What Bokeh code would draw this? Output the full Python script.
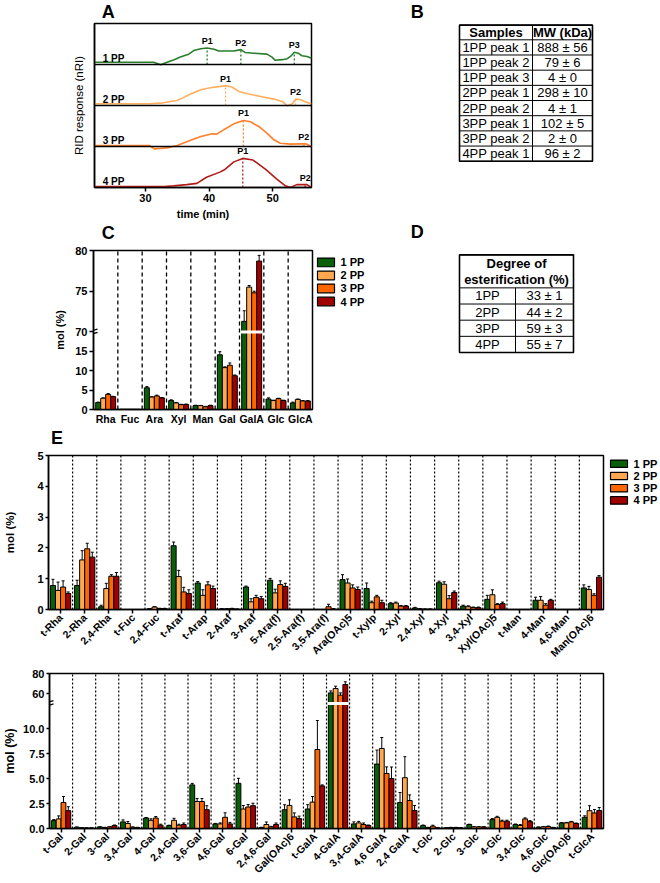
import numpy as np
from bokeh.plotting import figure
from bokeh.models import Range1d, FactorRange, FixedTicker, Span, ColumnDataSource, Arrow
from bokeh.layouts import column, row
from bokeh.transform import dodge
from bokeh.embed import file_html
from bokeh.resources import INLINE
from bokeh.core.properties import value

# ======================= DATA =======================
SERIES = ["1 PP", "2 PP", "3 PP", "4 PP"]

# Panel A - RID chromatograms (time in min, relative response)
A_t_1PP = [22.0, 31.3, 32.4, 33.4, 34.5, 35.5, 36.3, 36.8, 37.6, 38.7, 39.7, 40.8, 41.5, 42.9, 43.9,
           45.0, 45.7, 47.0, 49.1, 49.9, 50.4, 51.5, 52.3, 52.9, 53.4, 54.0, 54.6, 55.4, 56.1]
A_r_1PP = [0.055, 0.055, -0.008, 0.055, 0.118, 0.181, 0.228, 0.252, 0.339, 0.386, 0.402, 0.370, 0.331,
           0.331, 0.331, 0.362, 0.291, 0.276, 0.252, 0.181, 0.102, 0.118, 0.142, 0.213, 0.299, 0.276,
           0.213, 0.197, 0.150]
A_t_2PP = [22.0, 30.6, 32.4, 33.9, 35.0, 35.8, 37.1, 38.7, 40.2, 41.8, 42.6, 43.6, 44.7, 46.0, 48.1,
           50.2, 51.5, 52.3, 53.1, 53.6, 54.4, 55.2, 56.1]
A_r_2PP = [0.041, 0.041, 0.057, 0.098, 0.123, 0.180, 0.279, 0.385, 0.434, 0.467, 0.484, 0.451, 0.344,
           0.287, 0.221, 0.156, 0.098, -0.008, 0.041, 0.156, 0.139, 0.082, 0.041]
A_t_3PP = [22.0, 30.6, 31.4, 33.4, 35.0, 36.6, 38.7, 40.5, 41.2, 42.3, 43.9, 45.4, 46.5, 47.8, 49.1,
           50.2, 51.2, 52.8, 54.4, 55.2, 56.1]
A_r_3PP = [0.024, 0.024, -0.057, -0.033, 0.024, 0.122, 0.244, 0.309, 0.301, 0.407, 0.553, 0.634, 0.602,
           0.488, 0.325, 0.163, 0.081, 0.057, 0.065, 0.065, 0.0]
A_t_4PP = [22.0, 33.0, 34.4, 36.5, 38.1, 39.6, 41.7, 42.5, 43.9, 45.3, 46.9, 48.9, 50.6, 52.0, 52.8,
           53.8, 55.4, 56.1]
A_r_4PP = [0.025, 0.025, 0.04, 0.07, 0.10, 0.25, 0.375, 0.44, 0.625, 0.71, 0.67, 0.44, 0.21, 0.04, 0.0,
           0.07, 0.07, 0.0]
A_xticks = [30, 40, 50]
PEAK_sample = [0, 0, 0, 1, 1, 2, 2, 3, 3]
PEAK_label = ["P1", "P2", "P3", "P1", "P2", "P1", "P2", "P1", "P2"]
PEAK_time = [39.7, 45.0, 53.4, 42.6, 53.6, 45.4, 54.9, 45.3, 55.1]

# Panel B - molecular weights
B_header = ["Samples", "MW (kDa)"]
B_samples = ["1PP peak 1", "1PP peak 2", "1PP peak 3", "2PP peak 1", "2PP peak 2",
             "3PP peak 1", "3PP peak 2", "4PP peak 1"]
B_mw = ["888 ± 56", "79 ± 6", "4 ± 0", "298 ± 10", "4 ± 1", "102 ± 5", "2 ± 0", "96 ± 2"]

# Panel C - monosaccharide composition (mol %)
C_cats = ["Rha", "Fuc", "Ara", "Xyl", "Man", "Gal", "GalA", "Glc", "GlcA"]
C_1PP = [1.8, 0.05, 5.6, 2.3, 1.0, 14.1, 71.3, 2.7, 1.7]
C_2PP = [2.9, 0.05, 3.2, 1.7, 1.0, 10.8, 75.5, 2.3, 2.6]
C_3PP = [3.9, 0.05, 3.5, 1.25, 0.7, 11.4, 74.8, 2.8, 2.2]
C_4PP = [3.3, 0.05, 3.0, 1.3, 1.0, 8.7, 78.7, 2.3, 2.2]
C_1PP_err = [0.1, 0, 0.3, 0.2, 0.1, 0.8, 1.3, 0.3, 0.2]
C_2PP_err = [0.1, 0, 0.1, 0.1, 0.05, 0.2, 0.2, 0.1, 0.1]
C_3PP_err = [0.2, 0, 0.2, 0.1, 0.1, 0.6, 0.2, 0.1, 0.1]
C_4PP_err = [0.1, 0, 0.1, 0.1, 0.1, 0.2, 0.7, 0.1, 0.1]
C_yticks = [0, 5, 10, 15, 70, 75, 80]

# Panel D - degree of esterification
D_header = ["Degree of", "esterification (%)"]
D_samples = ["1PP", "2PP", "3PP", "4PP"]
D_values = ["33 ± 1", "44 ± 2", "59 ± 3", "55 ± 7"]

# Panel E (top) - glycosyl linkages (mol %)
E1_cats = ["t-Rha", "2-Rha", "2,4-Rha", "t-Fuc", "2,4-Fuc", "t-Araf", "t-Arap", "2-Araf", "3-Araf",
           "5-Ara(f)", "2,5-Ara(f)", "3,5-Ara(f)", "Ara(OAc)5", "t-Xylp", "2-Xyl", "2,4-Xyl", "4-Xyl",
           "3,4-Xyl", "Xyl(OAc)5", "t-Man", "4-Man", "4,6-Man", "Man(OAc)6"]
E1_1PP = [0.78, 0.78, 0.09, 0, 0.02, 2.07, 0.86, 0.02, 0.73, 0.95, 0, 0, 0.97, 0.68, 0.19, 0.05, 0.87,
          0.11, 0.33, 0, 0.30, 0, 0.70]
E1_2PP = [0.62, 1.61, 0.68, 0, 0.08, 1.07, 0.46, 0.02, 0.25, 0.54, 0, 0, 0.86, 0.22, 0.21, 0.02, 0.82,
          0.09, 0.48, 0, 0.30, 0, 0.65]
E1_3PP = [0.73, 1.97, 1.08, 0, 0.03, 0.57, 0.80, 0.03, 0.39, 0.81, 0, 0.09, 0.70, 0.41, 0.11, 0.01, 0.35,
          0.06, 0.16, 0, 0.14, 0, 0.46]
E1_4PP = [0.52, 1.70, 1.08, 0, 0.03, 0.52, 0.68, 0.01, 0.35, 0.75, 0, 0.01, 0.65, 0.22, 0.11, 0.01, 0.55,
          0.06, 0.19, 0, 0.30, 0, 1.05]
E1_1PP_err = [0.2, 0.17, 0.05, 0, 0.01, 0.12, 0.05, 0.01, 0.03, 0.06, 0, 0, 0.16, 0.18, 0.03, 0.02, 0.05,
              0.03, 0.13, 0, 0.1, 0, 0.1]
E1_2PP_err = [0.27, 0.3, 0.17, 0, 0.01, 0.2, 0.18, 0.01, 0.1, 0.12, 0, 0, 0.13, 0.05, 0.03, 0.01, 0.08,
              0.03, 0.16, 0, 0.12, 0, 0.1]
E1_3PP_err = [0.2, 0.18, 0.05, 0, 0.01, 0.15, 0.1, 0.01, 0.07, 0.12, 0, 0.08, 0.1, 0.05, 0.02, 0.01, 0.1,
              0.02, 0.03, 0, 0.05, 0, 0.05]
E1_4PP_err = [0.05, 0.16, 0.12, 0, 0.01, 0.12, 0.08, 0.01, 0.07, 0.1, 0, 0.02, 0.08, 0.08, 0.02, 0.01,
              0.05, 0.02, 0.05, 0, 0.03, 0, 0.05]
E1_yticks = [0, 1, 2, 3, 4, 5]

# Panel E (bottom)
E2_cats = ["t-Gal", "2-Gal", "3-Gal", "3,4-Gal", "4-Gal", "2,4-Gal", "3,6-Gal", "4,6-Gal", "6-Gal",
           "2,4,6-Gal", "Gal(OAc)6", "t-GalA", "4-GalA", "3,4-GalA", "4,6 GalA", "2,4 GalA", "t-Glc",
           "2-Glc", "3-Glc", "4-Glc", "3,4-Glc", "4,6-Glc", "Glc(OAc)6", "t-GlcA"]
E2_1PP = [0.79, 0.13, 0.16, 0.66, 1.05, 0.30, 4.36, 0.46, 4.52, 0.10, 1.88, 1.95, 60.6, 0.46, 6.44, 2.6,
          0.30, 0.07, 0.40, 0.89, 0.40, 0.13, 0.56, 1.12]
E2_2PP = [0.96, 0.07, 0.10, 0.50, 0.82, 0.82, 2.70, 0.46, 1.95, 0.40, 2.31, 2.64, 65.0, 0.56, 8.0, 5.08,
          0.10, 0.10, 0.16, 1.12, 0.30, 0.16, 0.56, 1.78]
E2_3PP = [2.60, 0.05, 0.16, 0.13, 1.05, 0.33, 2.70, 1.12, 2.15, 0.16, 1.16, 7.90, 58.3, 0.40, 5.5, 2.8,
          0.23, 0.10, 0.16, 0.73, 0.96, 0.20, 0.66, 1.55]
E2_4PP = [1.78, 0.05, 0.30, 0.10, 0.33, 0.40, 1.88, 0.46, 2.28, 0.40, 0.99, 4.26, 69.0, 0.30, 5.0, 1.8,
          0.07, 0.07, 0.16, 0.73, 0.69, 0.10, 0.50, 1.80]
E2_1PP_err = [0.1, 0.02, 0.02, 0.2, 0.05, 0.03, 0.15, 0.05, 0.5, 0.02, 0.5, 0.43, 2.0, 0.2, 1.4, 1.0,
              0.05, 0.02, 0.03, 0.1, 0.05, 0.02, 0.03, 0.15]
E2_2PP_err = [0.3, 0.02, 0.02, 0.2, 0.15, 0.2, 0.3, 0.1, 0.35, 0.25, 0.56, 0.56, 2.3, 0.15, 1.1, 2.1,
              0.02, 0.02, 0.02, 0.1, 0.1, 0.02, 0.05, 0.5]
E2_3PP_err = [0.6, 0.02, 0.02, 0.03, 0.15, 0.1, 0.3, 0.45, 0.25, 0.05, 0.4, 2.9, 2.3, 0.15, 0.66, 0.56,
              0.1, 0.02, 0.02, 0.1, 0.1, 0.05, 0.05, 0.35]
E2_4PP_err = [0.4, 0.02, 0.05, 0.02, 0.1, 0.15, 0.4, 0.15, 0.25, 0.15, 0.25, 0.1, 2.7, 0.05, 1.15, 0.5,
              0.02, 0.02, 0.02, 0.1, 0.1, 0.02, 0.05, 0.3]
E2_yticks = [0, 2.5, 5, 7.5, 10, 60, 80]
E2_ylabels = ["0.0", "2.5", "5.0", "7.5", "10.0", "60", "80"]

# ======================= STYLE / HELPERS =======================
FONT = "Liberation Sans"
BAR_COLORS = ["#0a5f0a", "#ffa850", "#ff6600", "#a00000"]
TRACE_COLORS = ["#2a7d2a", "#ffae5e", "#ff7f2a", "#b31b1b"]


def axis_fig(width, height, x_range, y_range, left, top, fw, fh):
    p = figure(width=width, height=height, x_range=x_range, y_range=y_range,
               output_backend="svg", toolbar_location=None,
               min_border_left=left, min_border_right=width - left - fw,
               min_border_top=top, min_border_bottom=height - top - fh)
    p.background_fill_color = "white"
    p.border_fill_color = "white"
    p.xgrid.visible = False
    p.ygrid.visible = False
    p.outline_line_color = "black"
    p.outline_line_width = 1.5
    p.outline_line_alpha = 1.0
    for ax in p.axis:
        ax.axis_line_width = 1.5
        ax.axis_line_color = "black"
        ax.major_tick_line_width = 1.5
        ax.major_tick_line_color = "black"
        ax.major_tick_in = 0
        ax.major_tick_out = 4
        ax.minor_tick_line_color = None
        ax.major_label_standoff = 2
        ax.major_label_text_font = FONT
        ax.major_label_text_font_style = "bold"
        ax.major_label_text_font_size = "11px"
        ax.major_label_text_color = "black"
        ax.axis_label_text_font = FONT
        ax.axis_label_text_font_style = "bold"
        ax.axis_label_text_color = "black"
        ax.axis_label_text_font_size = "11px"
    return p


def plain_fig(width, height, page_x, page_y):
    """Figure without axes whose data coordinates are page pixels (y downwards)."""
    p = figure(width=width, height=height, x_range=Range1d(page_x, page_x + width),
               y_range=Range1d(page_y + height, page_y), x_axis_type=None, y_axis_type=None,
               output_backend="svg", toolbar_location=None,
               min_border_left=0, min_border_right=0, min_border_top=0, min_border_bottom=0)
    p.outline_line_color = None
    p.background_fill_color = "white"
    p.border_fill_color = "white"
    return p


def txt(p, xs, ys, texts, size="13px", style="normal", align="center"):
    p.text(x=xs, y=ys, text=texts, text_font=value(FONT), text_font_size=value(size),
           text_font_style=value(style), text_align=value(align), text_baseline=value("middle"),
           text_color="black")


def bars(p, cats, vals_list, errs_list, tf, bw):
    for k, (vals, errs) in enumerate(zip(vals_list, errs_list)):
        v = np.asarray(vals, float)
        e = np.asarray(errs, float)
        off = (k - 1.5) * bw
        m = e > 0
        es = ColumnDataSource(dict(cat=[c for c, mm in zip(cats, m) if mm],
                                   y0=tf(v[m]), y1=tf(v[m] + e[m])))
        p.segment(x0=dodge("cat", off, range=p.x_range), y0="y0",
                  x1=dodge("cat", off, range=p.x_range), y1="y1", source=es,
                  line_color="black", line_width=1)
        p.segment(x0=dodge("cat", off - 0.3 * bw, range=p.x_range), y0="y1",
                  x1=dodge("cat", off + 0.3 * bw, range=p.x_range), y1="y1", source=es,
                  line_color="black", line_width=1)
        bs = ColumnDataSource(dict(cat=list(cats), top=tf(v)))
        p.vbar(x=dodge("cat", off, range=p.x_range), top="top", bottom=0, width=bw, source=bs,
               fill_color=BAR_COLORS[k], line_color="black", line_width=1)


def separators(p, cats, top, dash, lw):
    ss = ColumnDataSource(dict(cat=list(cats[1:])))
    p.segment(x0=dodge("cat", -0.5, range=p.x_range), y0=0, x1=dodge("cat", -0.5, range=p.x_range),
              y1=top, source=ss, line_color="black", line_width=lw, line_dash=dash)


def break_gap(p, cats, vals_list, brk, bw):
    allv = np.max(np.asarray(vals_list, float), axis=0)
    bc = [c for c, vv in zip(cats, allv) if vv > brk]
    gs = ColumnDataSource(dict(cat=bc))
    p.segment(x0=dodge("cat", -2 * bw - 0.03, range=p.x_range), y0=brk,
              x1=dodge("cat", 2 * bw + 0.03, range=p.x_range), y1=brk, source=gs,
              line_color="white", line_width=3)


def break_marks(p, brk, px_x, px_y):
    """Two short slanted strokes across the y axis at the axis break (px_x/px_y: data per pixel)."""
    for d in (-1.7, 1.7):
        yc = brk + d * px_y
        p.add_layout(Arrow(start=None, end=None, x_start=-4 * px_x, y_start=yc - 1.2 * px_y,
                           x_end=4 * px_x, y_end=yc + 1.2 * px_y, line_color="black", line_width=1.3))


def y_ticks(p, vals, labels, tf):
    pos = [float(tf(v)) for v in vals]
    pos = [int(x) if x.is_integer() else x for x in pos]
    p.yaxis.ticker = FixedTicker(ticks=pos)
    p.yaxis.major_label_overrides = {x: l for x, l in zip(pos, labels)}


def legend_fig(width, height, page_x, page_y, box_x, box_w, box_h, row0, pitch, text_x):
    p = plain_fig(width, height, page_x, page_y)
    ys = [row0 + i * pitch for i in range(len(SERIES))]
    p.quad(left=box_x, right=box_x + box_w, top=[y - box_h / 2 for y in ys],
           bottom=[y + box_h / 2 for y in ys], fill_color=BAR_COLORS, line_color="black", line_width=1.2)
    txt(p, [text_x] * len(SERIES), ys, SERIES, size="11px", style="bold", align="left")
    return p


# ======================= STRIPS WITH PANEL LETTERS =======================
s0 = plain_fig(660, 21, 0, 0)
txt(s0, [70, 438], [11, 11], ["A", "B"], size="18px", style="bold")
s2 = plain_fig(660, 22, 0, 222)
txt(s2, [70, 438], [232, 231], ["C", "D"], size="18px", style="bold")
s4 = plain_fig(660, 21, 0, 427)
txt(s4, [9], [437], ["E"], size="18px", style="bold")

# ======================= PANEL A =======================
A_t = [A_t_1PP, A_t_2PP, A_t_3PP, A_t_4PP]
A_r = [A_r_1PP, A_r_2PP, A_r_3PP, A_r_4PP]
nA = len(A_t)
pA = axis_fig(400, 201, Range1d(22, 56.1), Range1d(0, nA), 94, 2, 217, 164)
for k in range(nA):
    off = nA - 1 - k
    pA.line(A_t[k], np.asarray(A_r[k]) + off, line_color=TRACE_COLORS[k], line_width=1.6)
for j in range(1, nA):
    pA.add_layout(Span(location=j, dimension="width", line_color="black", line_width=1.5))
pk_x, pk_y0, pk_y1, pk_c = [], [], [], []
for s, t in zip(PEAK_sample, PEAK_time):
    off = nA - 1 - s
    r = float(np.interp(t, A_t[s], A_r[s]))
    pk_x.append(t)
    pk_y0.append(off)
    pk_y1.append(off + r)
    pk_c.append(TRACE_COLORS[s])
pA.segment(x0=pk_x, y0=pk_y0, x1=pk_x, y1=pk_y1, line_color=pk_c, line_width=1.3, line_dash="2 2")
pA.text(x=pk_x, y=[y + 0.05 for y in pk_y1], text=PEAK_label, text_font=value(FONT),
        text_font_size=value("9px"), text_font_style=value("bold"), text_align=value("center"),
        text_baseline=value("bottom"), text_color="black")
pA.text(x=[23.3] * nA, y=[nA - 1 - k + 0.15 for k in range(nA)], text=SERIES,
        text_font=value(FONT), text_font_size=value("10px"), text_font_style=value("bold"),
        text_align=value("left"), text_baseline=value("middle"), text_color="black")
pA.xaxis.ticker = FixedTicker(ticks=A_xticks)
pA.xaxis.axis_label = "time (min)"
pA.xaxis.axis_label_standoff = 3
pA.yaxis.ticker = FixedTicker(ticks=[])
pA.yaxis.major_tick_out = 0
pA.yaxis.axis_label = "RID response (nRI)"
pA.yaxis.axis_label_text_font_style = "normal"
pA.yaxis.axis_label_text_font_size = "11.5px"
pA.yaxis.axis_label_standoff = 10

# ======================= PANEL B =======================
pB = plain_fig(260, 201, 400, 21)
B_left, B_mid, B_right, B_top, B_head, B_row = 459, 532, 592, 23, 18, 18.6
nB = len(B_samples)
hy = [B_top] + [B_top + B_head + i * B_row for i in range(nB + 1)]
pB.segment(x0=B_left, x1=B_right, y0=hy, y1=hy, line_color="black", line_width=1)
pB.segment(x0=[B_left, B_mid, B_right], x1=[B_left, B_mid, B_right], y0=B_top, y1=hy[-1],
           line_color="black", line_width=1)
pB.quad(left=B_left, right=B_right, top=B_top, bottom=hy[-1], fill_alpha=0, line_color="black",
        line_width=1.6)
txt(pB, [(B_left + B_mid) / 2, (B_mid + B_right) / 2], [B_top + B_head / 2] * 2, B_header, style="bold")
rowc = [B_top + B_head + (i + 0.5) * B_row for i in range(nB)]
txt(pB, [(B_left + B_mid) / 2] * nB, rowc, B_samples)
txt(pB, [(B_mid + B_right) / 2] * nB, rowc, B_mw)

# ======================= PANEL C =======================
C_BRK, C_UP0, C_UPS = 20, 70, 2.1


def tC(v):
    v = np.asarray(v, float)
    return np.where(v <= C_BRK, v, C_BRK + (v - C_UP0) * C_UPS)


C_vals = [C_1PP, C_2PP, C_3PP, C_4PP]
C_errs = [C_1PP_err, C_2PP_err, C_3PP_err, C_4PP_err]
C_top = float(tC(C_yticks[-1]))
pC = axis_fig(314, 183, FactorRange(factors=C_cats), Range1d(0, C_top), 93, 6, 219, 161)
separators(pC, C_cats, C_top, "4 3", 1.3)
bwC = 0.205
bars(pC, C_cats, C_vals, C_errs, tC, bwC)
break_gap(pC, C_cats, C_vals, C_BRK, bwC)
pC.xaxis.major_label_text_font_size = "10.5px"
pC.xaxis.major_tick_out = 0
pC.xaxis.major_label_standoff = 3
y_ticks(pC, C_yticks, [str(v) for v in C_yticks], tC)
pC.yaxis.axis_label = "mol (%)"
pC.yaxis.axis_label_standoff = 6
break_marks(pC, C_BRK, len(C_cats) / 219, C_top / 161)
legC = legend_fig(86, 183, 314, 244, 317, 17, 10, 257.7, 15, 340)

# ======================= PANEL D =======================
pD = plain_fig(260, 183, 400, 244)
D_left, D_mid, D_right, D_top, D_head, D_row = 459, 515, 573, 249, 38, 18.6
nD = len(D_samples)
dy = [D_top] + [D_top + D_head + i * D_row for i in range(nD + 1)]
pD.segment(x0=D_left, x1=D_right, y0=dy, y1=dy, line_color="black", line_width=1)
pD.segment(x0=[D_left, D_right, D_mid], x1=[D_left, D_right, D_mid], y0=[D_top, D_top, dy[1]],
           y1=dy[-1], line_color="black", line_width=1)
pD.quad(left=D_left, right=D_right, top=D_top, bottom=dy[-1], fill_alpha=0, line_color="black",
        line_width=1.6)
txt(pD, [(D_left + D_right) / 2] * 2, [D_top + 9.5, D_top + 28.5], D_header, style="bold")
rowd = [D_top + D_head + (i + 0.5) * D_row for i in range(nD)]
txt(pD, [(D_left + D_mid) / 2] * nD, rowd, D_samples)
txt(pD, [(D_mid + D_right) / 2] * nD, rowd, D_values)

# ======================= PANEL E (top) =======================
E1_vals = [E1_1PP, E1_2PP, E1_3PP, E1_4PP]
E1_errs = [E1_1PP_err, E1_2PP_err, E1_3PP_err, E1_4PP_err]


def tE1(v):
    return np.asarray(v, float)


bwE = 0.21
pE1 = axis_fig(606, 218, FactorRange(factors=E1_cats), Range1d(0, E1_yticks[-1]), 48, 7, 555, 154)
separators(pE1, E1_cats, E1_yticks[-1], "2 2", 1.2)
bars(pE1, E1_cats, E1_vals, E1_errs, tE1, bwE)
pE1.xaxis.major_label_orientation = np.pi / 4
pE1.xaxis.major_label_text_font_size = "10.5px"
pE1.yaxis.ticker = FixedTicker(ticks=E1_yticks)
pE1.yaxis.axis_label = "mol (%)"
pE1.yaxis.axis_label_text_font_size = "11.5px"
pE1.yaxis.axis_label_standoff = 18
pE1.yaxis.major_tick_out = 3
legE = legend_fig(54, 218, 606, 448, 610, 17, 10.5, 459.7, 17.3, 633)

# ======================= PANEL E (bottom) =======================
E2_BRK, E2_UP0, E2_UPD = 12.5, 50, 10


def tE2(v):
    v = np.asarray(v, float)
    return np.where(v <= E2_BRK, v, E2_BRK + (v - E2_UP0) / E2_UPD)


E2_vals = [E2_1PP, E2_2PP, E2_3PP, E2_4PP]
E2_errs = [E2_1PP_err, E2_2PP_err, E2_3PP_err, E2_4PP_err]
E2_top = float(tE2(E2_yticks[-1]))
pE2 = axis_fig(660, 216, FactorRange(factors=E2_cats), Range1d(0, E2_top), 48, 7, 555, 156)
separators(pE2, E2_cats, E2_top, "2 2", 1.2)
bars(pE2, E2_cats, E2_vals, E2_errs, tE2, bwE)
break_gap(pE2, E2_cats, E2_vals, E2_BRK, bwE)
pE2.xaxis.major_label_orientation = np.pi / 4
pE2.xaxis.major_label_text_font_size = "10.5px"
y_ticks(pE2, E2_yticks, E2_ylabels, tE2)
pE2.yaxis.axis_label = "mol (%)"
pE2.yaxis.axis_label_text_font_size = "12.5px"
pE2.yaxis.axis_label_standoff = 3
pE2.yaxis.major_tick_out = 3
break_marks(pE2, E2_BRK, len(E2_cats) / 555, E2_top / 156)

layout = column(s0, row(pA, pB), s2, row(pC, legC, pD), s4, row(pE1, legE), pE2)
open("out.html", "w").write(file_html(layout, INLINE))
